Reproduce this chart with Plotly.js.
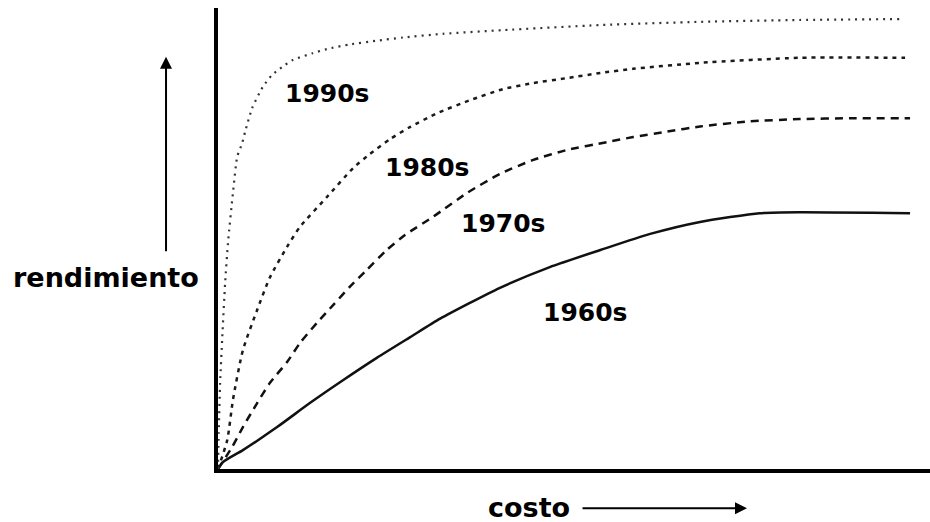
<!DOCTYPE html>
<html>
<head>
<meta charset="utf-8">
<script src="https://cdn.plot.ly/plotly-3.0.1.min.js"></script>
<style>html,body{margin:0;padding:0;background:#fff;}#chart{width:930px;height:522px;}</style>
</head>
<body>
<div id="chart"></div>
<script>
// Series (x = costo, y = rendimiento, arbitrary 0–100 units)
const seriesNames = ["1960s", "1970s", "1980s", "1990s"];

const x1960 = [0, 0.7, 3.5, 8.3, 12.9, 17.6, 22.3, 27.0, 31.2, 39.6, 46.6, 53.7, 60.7, 67.7, 76.1, 81.7, 97.2];
const y1960 = [0, 1.5, 4.1, 9.1, 14.3, 19.3, 24.1, 28.6, 32.6, 39.3, 43.8, 47.5, 51.0, 53.6, 55.5, 55.7, 55.5];

const x1970 = [0, 2.0, 3.5, 5.5, 7.3, 9.7, 11.5, 13.9, 16.2, 18.5, 20.9, 23.7, 26.3, 30.2, 35.0, 39.6, 44.2, 49.0, 54.6, 58.3, 63.1, 67.7, 74.7, 81.7, 88.8, 97.2];
const y1970 = [0, 4.8, 9.1, 14.3, 18.7, 23.2, 27.3, 31.7, 35.6, 39.5, 43.2, 47.5, 50.8, 54.7, 59.9, 64.0, 67.0, 69.2, 70.9, 72.0, 73.2, 74.3, 75.4, 75.9, 76.1, 76.1];

const x1980 = [0, 1.3, 2.1, 3.5, 5.5, 7.3, 9.7, 11.5, 15.3, 19.0, 21.3, 24.2, 27.0, 30.8, 35.4, 40.0, 44.2, 49.0, 53.7, 58.3, 67.7, 81.7, 96.5];
const y1980 = [0, 6.3, 15.0, 25.8, 34.5, 41.6, 48.2, 52.5, 59.0, 65.3, 68.3, 71.6, 74.2, 77.2, 80.0, 82.4, 83.7, 84.8, 85.9, 86.8, 88.1, 89.2, 89.2];

const x1990 = [0, 0.1, 0.3, 0.6, 1.0, 1.4, 2.1, 2.7, 3.4, 3.8, 4.8, 6.3, 7.6, 9.0, 10.5, 13.3, 15.3, 18.5, 22.3, 26.0, 31.6, 40.0, 53.7, 67.7, 81.7, 95.8];
const y1990 = [0, 7.8, 18.7, 28.6, 40.3, 49.0, 59.9, 67.7, 70.7, 73.1, 78.3, 82.9, 85.5, 87.2, 88.7, 90.2, 91.1, 92.1, 92.9, 93.6, 94.4, 95.2, 96.3, 97.0, 97.4, 97.6];

const xTitle = "costo";
const yTitle = "rendimiento";

const FONT = "DejaVu Sans, Verdana, sans-serif";

const traces = [
  {x: x1960, y: y1960, name: seriesNames[0], mode: "lines", line: {color: "#111", width: 2.5, shape: "spline", smoothing: 0.6}},
  {x: x1970, y: y1970, name: seriesNames[1], mode: "lines", line: {color: "#111", width: 2.5, dash: "8px,6px", shape: "spline", smoothing: 0.6}},
  {x: x1980, y: y1980, name: seriesNames[2], mode: "lines", line: {color: "#1a1a1a", width: 2.5, dash: "4px,5px", shape: "spline", smoothing: 0.6}},
  {x: x1990, y: y1990, name: seriesNames[3], mode: "lines", line: {color: "#333", width: 2.2, dash: "2px,5px", shape: "spline", smoothing: 0.6}}
];

const labelFont = {family: FONT, size: 25, color: "#000", weight: "bold"};
const titleFont = {family: FONT, size: 27, color: "#000", weight: "bold"};

const layout = {
  width: 930, height: 522,
  margin: {l: 218, r: 0, t: 8, b: 53, pad: 0},
  paper_bgcolor: "#fff", plot_bgcolor: "#fff",
  showlegend: false,
  xaxis: {range: [0, 100], showgrid: false, zeroline: false, showticklabels: false, ticks: "",
          showline: true, linecolor: "#000", linewidth: 4},
  yaxis: {range: [0, 100], showgrid: false, zeroline: false, showticklabels: false, ticks: "",
          showline: true, linecolor: "#000", linewidth: 4},
  annotations: [
    {xref: "x", yref: "y", x: 15.3, y: 81.5, text: "<b>" + seriesNames[3] + "</b>", showarrow: false, font: labelFont},
    {xref: "x", yref: "y", x: 29.3, y: 65.5, text: "<b>" + seriesNames[2] + "</b>", showarrow: false, font: labelFont},
    {xref: "x", yref: "y", x: 40.0, y: 53.2, text: "<b>" + seriesNames[1] + "</b>", showarrow: false, font: labelFont},
    {xref: "x", yref: "y", x: 51.5, y: 34.0, text: "<b>" + seriesNames[0] + "</b>", showarrow: false, font: labelFont},
    {xref: "paper", yref: "paper", x: -0.157, y: 0.416, text: "<b>" + yTitle + "</b>", showarrow: false, font: titleFont, xanchor: "center", yanchor: "middle"},
    {xref: "paper", yref: "paper", x: 0.0, y: -0.083, text: "<b>" + xTitle + "</b>", showarrow: false, font: titleFont,
     xanchor: "left", yanchor: "middle", xshift: 268, height: 28, valign: "middle"},
    // vertical arrow (rendimiento)
    {xref: "paper", yref: "paper", x: -0.073, y: 0.894, ax: 0, ay: 196, axref: "pixel", ayref: "pixel",
     text: "", showarrow: true, arrowhead: 2, arrowsize: 1.2, arrowwidth: 2, arrowcolor: "#000"},
    // horizontal arrow (costo)
    {xref: "paper", yref: "paper", x: 0.743, y: -0.085, ax: -166, ay: 0, axref: "pixel", ayref: "pixel",
     text: "", showarrow: true, arrowhead: 2, arrowsize: 1.2, arrowwidth: 2, arrowcolor: "#000"}
  ]
};

Plotly.newPlot("chart", traces, layout, {displayModeBar: false, staticPlot: true});
</script>
</body>
</html>
